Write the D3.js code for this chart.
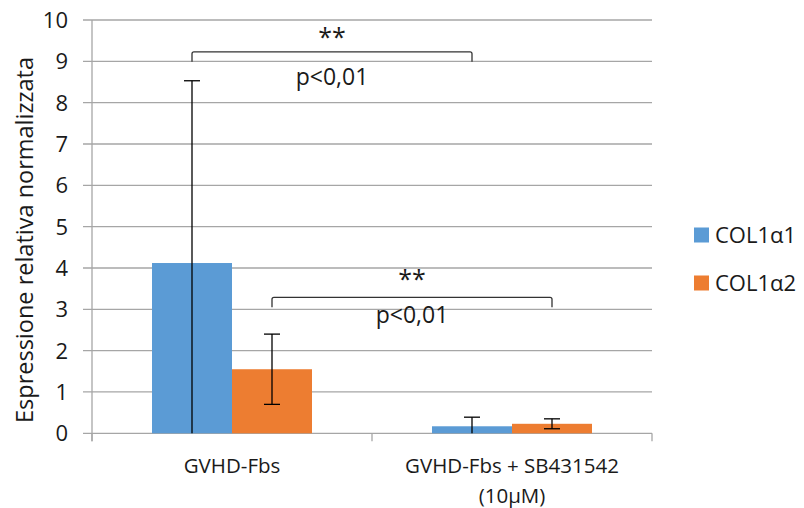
<!DOCTYPE html>
<html>
<head>
<meta charset="utf-8">
<script src="https://cdn.jsdelivr.net/npm/d3@7"></script>
<style>
  body { margin: 0; background: #fff; }
  text { font-family: "Open Sans", "Noto Sans", sans-serif; fill: #1a1a1a; }
</style>
</head>
<body>
<svg id="chart" width="804" height="508"></svg>
<script>
// data
const categories = ["GVHD-Fbs", "GVHD-Fbs + SB431542\n(10μM)"];
const seriesNames = ["COL1α1", "COL1α2"];
const seriesColors = ["#5b9bd5", "#ed7d31"];
const col1a1 = [4.12, 0.17];
const col1a2 = [1.55, 0.23];
const col1a1Err = [4.41, 0.22];
const col1a2Err = [0.85, 0.12];
const yTicks = [0, 1, 2, 3, 4, 5, 6, 7, 8, 9, 10];
// significance brackets: [from category, series] -> [to category, series]
const brackets = [
  { from: [0, 0], to: [1, 0], y: 9.23, stars: "**", p: "p<0,01" },
  { from: [0, 1], to: [1, 1], y: 3.29, stars: "**", p: "p<0,01" }
];

const svg = d3.select("#chart");
const mLeft = 92, mRight = 652, mTop = 20, mBottom = 433.3;

const x = d3.scaleBand().domain(d3.range(categories.length)).range([mLeft, mRight])
  .paddingInner(0).paddingOuter(0);
const xs = d3.scaleBand().domain(d3.range(seriesNames.length))
  .range([0, x.bandwidth()]).paddingInner(0).paddingOuter(0.75);
const y = d3.scaleLinear().domain([0, 10]).range([mBottom, mTop]);

// gridlines
svg.append("g").selectAll("line").data(yTicks).join("line")
  .attr("x1", mLeft - 9).attr("x2", mRight)
  .attr("y1", d => y(d)).attr("y2", d => y(d))
  .attr("stroke", "#a6a6a6").attr("stroke-width", 1.3);

// y axis line
svg.append("line").attr("x1", mLeft).attr("x2", mLeft)
  .attr("y1", mTop).attr("y2", mBottom + 8)
  .attr("stroke", "#a6a6a6").attr("stroke-width", 1.3);

// category tick marks
svg.append("g").selectAll("line").data(d3.range(categories.length + 1)).join("line")
  .attr("x1", d => mLeft + d * x.step()).attr("x2", d => mLeft + d * x.step())
  .attr("y1", mBottom).attr("y2", mBottom + 8)
  .attr("stroke", "#a6a6a6").attr("stroke-width", 1.3);

// y tick labels
svg.append("g").selectAll("text").data(yTicks).join("text")
  .attr("x", 68).attr("y", d => y(d)).attr("dy", "0.36em")
  .attr("text-anchor", "end").attr("font-size", 22).text(d => d);

// y axis title
svg.append("text")
  .attr("transform", `translate(33,240) rotate(-90)`)
  .attr("text-anchor", "middle").attr("font-size", 23.5)
  .text("Espressione relativa normalizzata");

// bars
const series = [col1a1, col1a2];
const errs = [col1a1Err, col1a2Err];
series.forEach((vals, s) => {
  const g = svg.append("g");
  g.selectAll("rect").data(vals).join("rect")
    .attr("x", (d, i) => x(i) + xs(s))
    .attr("width", xs.bandwidth())
    .attr("y", d => y(d))
    .attr("height", d => y(0) - y(d))
    .attr("fill", seriesColors[s]);
});

// error bars (clipped at 0)
series.forEach((vals, s) => {
  vals.forEach((v, i) => {
    const cx = x(i) + xs(s) + xs.bandwidth() / 2;
    const hi = v + errs[s][i], lo = Math.max(0, v - errs[s][i]);
    const g = svg.append("g").attr("stroke", "#000").attr("stroke-width", 1.3);
    g.append("line").attr("x1", cx).attr("x2", cx).attr("y1", y(hi)).attr("y2", y(lo));
    g.append("line").attr("x1", cx - 8).attr("x2", cx + 8).attr("y1", y(hi)).attr("y2", y(hi));
    if (v - errs[s][i] > 0) {
      g.append("line").attr("x1", cx - 8).attr("x2", cx + 8).attr("y1", y(lo)).attr("y2", y(lo));
    }
  });
});

// significance brackets
const starGap = [10, 13], pGap = [33, 26];
brackets.forEach((b, k) => {
  const x1 = x(b.from[0]) + xs(b.from[1]) + xs.bandwidth() / 2;
  const x2 = x(b.to[0]) + xs(b.to[1]) + xs.bandwidth() / 2;
  const yb = y(b.y);
  svg.append("path")
    .attr("d", `M${x1},${yb + 10}V${yb + 2}Q${x1},${yb} ${x1 + 2},${yb}H${x2 - 2}Q${x2},${yb} ${x2},${yb + 2}V${yb + 10}`)
    .attr("fill", "none").attr("stroke", "#333").attr("stroke-width", 1.3);
  const mid = (x1 + x2) / 2;
  svg.append("text").attr("x", mid).attr("y", yb - starGap[k] + 4).attr("text-anchor", "middle")
    .attr("font-size", 25).text(b.stars);
  svg.append("text").attr("x", mid).attr("y", yb + pGap[k]).attr("text-anchor", "middle")
    .attr("font-size", 23).text(b.p);
});

// category labels
categories.forEach((c, i) => {
  const t = svg.append("text").attr("x", x(i) + x.bandwidth() / 2).attr("y", 473)
    .attr("text-anchor", "middle").attr("font-size", 20.5);
  c.split("\n").forEach((line, k) => {
    t.append("tspan").attr("x", x(i) + x.bandwidth() / 2).attr("dy", k === 0 ? 0 : 30).text(line);
  });
});

// legend
seriesNames.forEach((n, s) => {
  const cy = 235 + s * 48;
  svg.append("rect").attr("x", 694).attr("y", cy - 7.5).attr("width", 15).attr("height", 15)
    .attr("fill", seriesColors[s]);
  svg.append("text").attr("x", 715).attr("y", cy).attr("dy", "0.36em")
    .attr("font-size", 22).text(n);
});
</script>
</body>
</html>
